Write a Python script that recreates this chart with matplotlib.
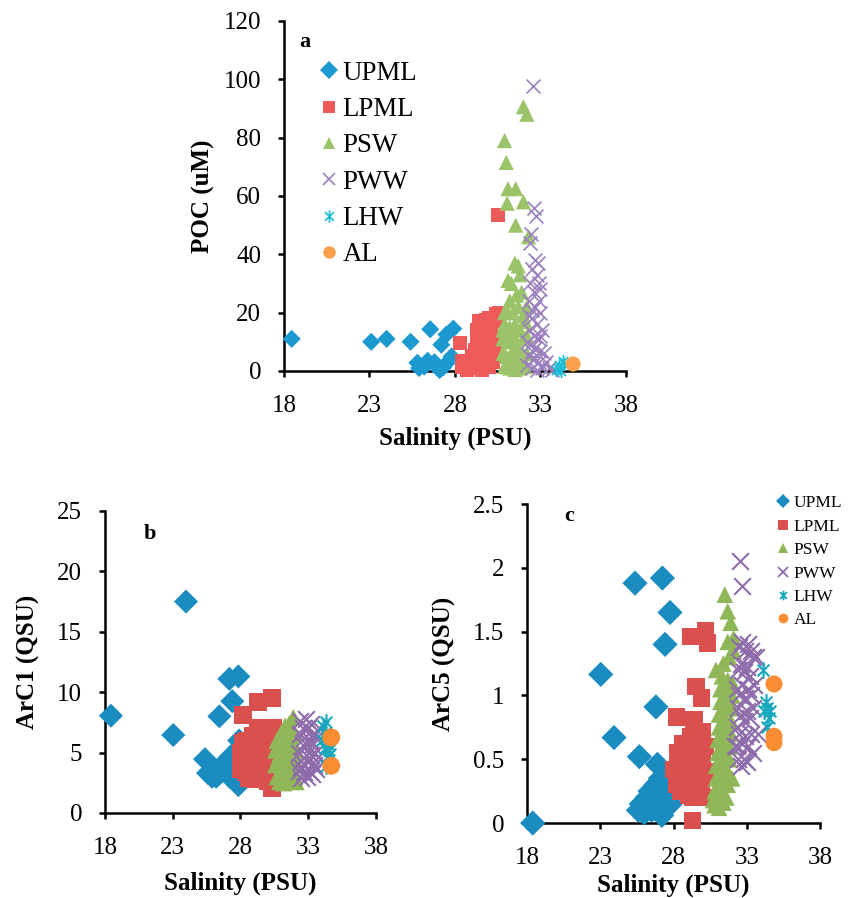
"""
Salinity scatter plots of POC, ArC1 and ArC5 by water mass (panels a, b, c).
"""
import matplotlib
matplotlib.use("Agg")
import matplotlib.pyplot as plt
from matplotlib.path import Path
from matplotlib.lines import Line2D

plt.rcParams["font.family"] = ["Liberation Serif", "DejaVu Serif"]

GROUPS = ["UPML", "LPML", "PSW", "PWW", "LHW", "AL"]

# ---- panel a: POC (uM) vs salinity ----
a_upml_s = [18.45, 23.1, 24.0, 25.4, 26.55, 27.2, 27.5, 27.9, 25.8, 26.4, 26.9, 27.1, 27.5, 27.8,
            26.2, 26.8, 25.9, 27.3]
a_upml_v = [11, 10, 11, 10, 14.3, 9, 12.5, 14.5, 2.8, 3.5, 1.8, 0.3, 2.6, 5,
            1.5, 3, 1.0, 1.2]
a_lpml_s = [28.3, 30.5, 28.4, 28.4, 28.7, 28.7, 28.9, 29.0, 29.0, 29.2, 29.3, 29.3, 29.4, 29.5,
            29.5, 29.6, 29.7, 29.8, 29.8, 29.9, 30.0, 30.0, 30.1, 30.2, 30.2, 30.4, 30.5, 30.6,
            30.3, 30.5, 29.1, 29.6, 30.0, 30.6]
a_lpml_v = [9.5, 53.5, 1.5, 3.5, 0.5, 2.5, 1, 3, 5, 7, 10, 14, 17, 12,
            4, 8, 15, 17.5, 2, 11, 6, 18, 14, 9, 3, 19.5, 17, 20,
            12, 6, 1, 0.5, 1.5, 12]
a_psw_s = [32.0, 32.2, 30.9, 31.0, 31.1, 31.55, 31.05, 32.0, 31.55, 32.3, 31.5, 31.7, 31.1,
           31.3, 31.8, 31.6, 31.2, 31.9, 31.0, 31.4, 31.7, 32.0, 30.9, 31.2, 31.5, 31.8, 32.1,
           30.8, 31.1, 31.4, 31.7, 32.0, 30.8, 31.0, 31.3, 31.6, 31.9, 32.2, 30.9, 31.2, 31.5,
           31.8, 32.1, 31.3, 31.6, 31.9, 32.2, 31.1, 30.9, 32.2, 30.8]
a_psw_v = [90.6, 88, 79, 71.5, 62.5, 62.5, 57.5, 58, 50, 46, 37, 36, 31,
           30, 33, 26, 24, 27, 21, 20, 22, 19, 16, 15, 16, 14, 17,
           11, 10, 11, 9, 11, 6, 5, 6, 4, 5, 6, 1.5, 1, 0.5,
           1, 1.5, 13, 8, 2.5, 12, 3, 20, 22, 14]
a_pww_s = [32.58, 32.6, 32.75, 32.45, 32.4, 32.7, 32.85, 32.5, 32.9, 32.4, 32.6, 33.0, 32.3, 32.7,
           33.0, 32.5, 32.8, 33.1, 32.3, 32.6, 32.9, 32.4, 32.7, 33.0, 33.2, 32.3, 32.6, 32.9,
           33.3, 32.2, 32.5, 32.8, 33.1, 33.5, 33.7, 32.3, 32.9, 32.5, 32.8, 33.0, 32.2, 32.5]
a_pww_v = [97.7, 56, 53, 47, 44, 38, 37, 35, 30, 30, 27, 28, 24, 22,
           20, 18, 16, 14, 14, 12, 11, 9, 8, 7, 6, 5, 4, 3,
           3, 2, 1, 0.5, 1, 1, 0.5, 19, 24, 21, 33, 12, 10, 7]
a_lhw_s = [33.9, 34.1, 34.3, 34.0, 34.2, 34.4]
a_lhw_v = [0.5, 2, 3.5, 1, 0, 2.5]
a_al_s = [34.9]
a_al_v = [2.4]

# ---- panel b: ArC1 (QSU) vs salinity ----
b_upml_s = [18.44, 23.04, 23.98, 25.38, 26.44, 27.18, 27.84, 27.4, 27.84, 27.9,
            25.6, 25.9, 26.1, 26.4, 26.6, 26.8, 27.0, 27.2, 27.3, 27.5, 27.6, 26.2, 27.0]
b_upml_v = [8.05, 6.45, 17.5, 4.45, 8.0, 11.1, 11.3, 9.25, 2.3, 6.0,
            3.3, 3.0, 3.6, 3.2, 3.9, 3.5, 4.2, 3.0, 4.7, 4.1, 5.0, 3.0, 3.4]
b_lpml_s = [28.2, 29.3, 30.3, 30.3, 28.0, 28.0, 28.1, 28.2, 28.4, 28.4, 28.5, 28.7, 28.7, 28.9,
            28.9, 29.0, 29.1, 29.2, 29.3, 29.4, 29.5, 29.6, 29.6, 29.7, 29.8, 29.9, 30.0, 30.0,
            30.1, 30.2, 30.3, 30.4, 30.4, 30.5, 30.5, 29.3, 28.6]
b_lpml_v = [8.1, 9.2, 9.5, 2.1, 3.6, 5.0, 4.3, 5.8, 3.4, 4.8, 6.0, 4.0, 5.4, 3.0,
            6.4, 4.6, 2.8, 5.4, 3.6, 6.2, 4.4, 2.9, 5.2, 6.8, 3.8, 4.8, 6.4, 2.6,
            3.5, 5.5, 4.2, 7.0, 3.0, 5.8, 4.6, 7.0, 2.9]
b_psw_s = [30.6, 30.6, 30.7, 30.7, 30.8, 30.9, 30.9, 31.0, 31.0, 31.1, 31.2, 31.2, 31.3, 31.3,
           31.4, 31.4, 31.5, 31.5, 31.6, 31.6, 31.7, 31.7, 31.8, 31.8, 31.8, 31.9, 31.9, 32.0,
           32.0, 32.1, 32.1, 32.2]
b_psw_v = [4.0, 5.2, 3.0, 6.0, 4.6, 2.6, 5.5, 3.6, 6.6, 4.4, 2.5, 5.2, 7.2, 3.4,
           4.6, 6.2, 2.7, 5.4, 3.8, 7.4, 4.8, 6.4, 2.6, 3.8, 5.6, 7.9, 4.4, 3.0,
           6.6, 5.2, 2.6, 4.0]
b_pww_s = [32.3, 32.3, 32.4, 32.4, 32.5, 32.5, 32.6, 32.6, 32.7, 32.7, 32.8, 32.8, 32.9, 32.9,
           33.0, 33.0, 33.1, 33.1, 33.2, 33.2, 33.3, 33.3, 33.4, 33.4, 33.5, 33.6, 33.6, 33.7,
           33.8, 32.5]
b_pww_v = [3.5, 5.0, 6.5, 7.6, 2.9, 4.3, 5.6, 7.0, 3.4, 6.2, 4.8, 7.8, 3.0, 5.6,
           4.2, 7.0, 3.4, 6.0, 4.8, 7.4, 3.2, 5.6, 6.6, 4.0, 5.0, 6.2, 3.6, 4.6,
           7.0, 3.8]
b_lhw_s = [34.1, 34.2, 34.3, 34.5, 34.4, 34.6, 34.3, 34.0, 34.5, 34.2]
b_lhw_v = [7.2, 6.6, 7.5, 5.2, 4.6, 4.9, 3.9, 6.0, 5.6, 5.4]
b_al_s = [34.7, 34.7]
b_al_v = [6.25, 3.9]

# ---- panel c: ArC5 (QSU) vs salinity ----
c_upml_s = [18.39, 23.03, 23.94, 25.37, 27.24, 27.76, 27.42, 26.8, 25.67, 26.9,
            25.6, 25.8, 26.0, 26.2, 26.4, 26.6, 26.8, 27.0, 27.2, 27.4, 27.6, 27.8, 26.5, 27.1,
            26.3, 27.3]
c_upml_v = [0.0, 1.165, 0.67, 1.88, 1.92, 1.65, 1.40, 0.91, 0.52, 0.46,
            0.10, 0.15, 0.08, 0.20, 0.25, 0.18, 0.30, 0.12, 0.06, 0.22, 0.28, 0.15, 0.10, 0.35,
            0.14, 0.25]
c_lpml_s = [29.3, 29.17, 30.2, 30.3, 29.54, 29.9, 28.2, 29.4,
            28.0, 28.2, 28.3, 28.5, 28.5, 28.6, 28.8, 28.8, 29.0, 29.0, 29.1, 29.2, 29.3, 29.4,
            29.5, 29.6, 29.7, 29.8, 29.9, 30.0, 30.0, 30.1, 30.2, 30.3, 29.6, 29.3, 28.6]
c_lpml_v = [0.02, 1.46, 1.51, 1.41, 1.07, 0.98, 0.83, 0.81,
            0.42, 0.30, 0.55, 0.25, 0.42, 0.62, 0.32, 0.50, 0.22, 0.40, 0.60, 0.68, 0.30, 0.50,
            0.38, 0.64, 0.45, 0.58, 0.30, 0.72, 0.48, 0.20, 0.60, 0.40, 0.26, 0.20, 0.30]
c_psw_s = [31.5, 31.7, 31.9, 30.8, 31.1, 31.4, 30.8, 31.2, 31.6, 30.9, 31.3, 31.7, 30.9, 31.3,
           31.7, 31.0, 31.4, 31.8, 31.0, 31.4, 31.8, 31.1, 31.5, 31.9, 31.1, 31.5, 31.9, 31.2,
           31.6, 32.0, 31.2, 31.6, 32.0, 30.9, 31.3, 31.7, 32.0, 31.4, 31.8, 32.1, 31.7, 32.1,
           30.7, 32.0]
c_psw_v = [1.79, 1.66, 1.57, 0.14, 0.12, 0.16, 0.25, 0.22, 0.20, 0.35, 0.32, 0.30, 0.45, 0.42,
           0.40, 0.55, 0.52, 0.50, 0.65, 0.62, 0.60, 0.75, 0.72, 0.70, 0.85, 0.82, 0.80, 0.95,
           0.92, 0.90, 1.05, 1.02, 1.00, 1.20, 1.15, 1.12, 1.10, 1.25, 1.30, 1.35, 1.42, 1.45,
           0.18, 0.35]
c_pww_s = [32.54, 32.7, 32.3, 32.4, 32.6, 32.8, 33.0, 32.3, 32.5, 32.7, 32.9, 33.1, 33.3, 32.4,
           32.6, 32.8, 33.0, 33.2, 33.4, 32.3, 32.5, 32.7, 32.9, 33.1, 33.3, 33.5, 32.4, 32.6,
           32.8, 33.0, 33.2, 33.4, 32.5, 32.7, 32.9, 33.1, 33.3, 33.6, 33.8, 33.4, 32.2]
c_pww_v = [2.05, 1.86, 0.60, 0.50, 0.45, 0.50, 0.48, 0.75, 0.70, 0.62, 0.68, 0.60, 0.70, 0.90,
           0.85, 0.80, 0.88, 0.82, 0.90, 1.05, 1.00, 1.08, 0.98, 1.05, 1.00, 1.08, 1.20, 1.25,
           1.18, 1.22, 1.15, 1.30, 1.38, 1.42, 1.35, 1.40, 1.35, 1.30, 0.70, 0.55, 0.60]
c_lhw_s = [34.1, 34.3, 34.4, 34.2, 34.5, 34.6, 34.4]
c_lhw_v = [1.2, 0.95, 0.90, 0.88, 0.82, 0.88, 0.75]
c_al_s = [34.86, 34.86, 34.86]
c_al_v = [1.09, 0.68, 0.63]

# asterisk marker: x plus a vertical bar (Excel style)
STAR = Path([(0, -1), (0, 1), (-0.7, -0.7), (0.7, 0.7), (-0.7, 0.7), (0.7, -0.7)],
            [Path.MOVETO, Path.LINETO, Path.MOVETO, Path.LINETO, Path.MOVETO, Path.LINETO])
MARKERS = ["D", "s", "^", "x", STAR, "o"]
COLORS_A = ["#1C9AD0", "#EE5A5A", "#9BC46A", "#9B80BE", "#1ABFD6", "#FBA04C"]
COLORS_BC = ["#1A8CBF", "#D9504E", "#8FB657", "#8E6CAB", "#17A8BE", "#F98D34"]


def is_line_marker(m):
    return isinstance(m, Path) or m == "x"


def scatter_panel(ax, series, colors, sizes, lw):
    for (s, v), m, c, sz in zip(series, MARKERS, colors, sizes):
        if is_line_marker(m):
            ax.scatter(s, v, marker=m, s=sz, c=c, linewidths=lw, clip_on=False, zorder=3)
        else:
            ax.scatter(s, v, marker=m, s=sz, c=c, edgecolors="none", clip_on=False, zorder=3)


def style_axes(ax, ylim, yticks, yticklabels, ylabel, letter, letter_xy, xlabelpad, ylabelpad):
    ax.set_xlim(18, 38)
    ax.set_xticks([18, 23, 28, 33, 38])
    ax.set_ylim(*ylim)
    ax.set_yticks(yticks)
    ax.set_yticklabels(yticklabels)
    for side in ("top", "right"):
        ax.spines[side].set_visible(False)
    for side in ("left", "bottom"):
        ax.spines[side].set_linewidth(1.8)
    ax.tick_params(direction="out", length=4.5, width=1.8, labelsize=18)
    ax.tick_params(axis="x", pad=13)
    ax.tick_params(axis="y", pad=12)
    ax.set_xlabel("Salinity (PSU)", fontsize=18, fontweight="bold", labelpad=xlabelpad)
    ax.set_ylabel(ylabel, fontsize=18, fontweight="bold", labelpad=ylabelpad)
    ax.text(letter_xy[0], letter_xy[1], letter, transform=ax.transAxes,
            fontsize=16, fontweight="bold", ha="center", va="center")


def legend_handles(colors, ms, lw):
    handles = []
    for m, c in zip(MARKERS, colors):
        if is_line_marker(m):
            h = Line2D([], [], ls="none", marker=m, color=c, markersize=ms, markeredgewidth=lw)
        else:
            h = Line2D([], [], ls="none", marker=m, color=c, markersize=ms, markeredgewidth=0)
        handles.append(h)
    return handles


fig = plt.figure(figsize=(8.48, 8.98), dpi=100)

ax_a = fig.add_axes([0.3349, 0.5869, 0.4033, 0.3898])
scatter_panel(ax_a,
              [(a_upml_s, a_upml_v), (a_lpml_s, a_lpml_v), (a_psw_s, a_psw_v),
               (a_pww_s, a_pww_v), (a_lhw_s, a_lhw_v), (a_al_s, a_al_v)],
              COLORS_A, [85, 105, 120, 100, 90, 120], 1.2)
style_axes(ax_a, (0, 120), [0, 20, 40, 60, 80, 100, 120],
           ["0", "20", "40", "60", "80", "100", "120"], "POC (uM)", "a", (0.062, 0.94), 7, 6)
ax_a.legend(legend_handles(COLORS_A, 9, 1.2), GROUPS, loc="upper left",
            bbox_to_anchor=(0.108, 0.886), frameon=False, fontsize=19.4,
            handlelength=0.6, handletextpad=0.2, labelspacing=0.42, borderaxespad=0,
            borderpad=0)

ax_b = fig.add_axes([0.1238, 0.0947, 0.3196, 0.3363])
scatter_panel(ax_b,
              [(b_upml_s, b_upml_v), (b_lpml_s, b_lpml_v), (b_psw_s, b_psw_v),
               (b_pww_s, b_pww_v), (b_lhw_s, b_lhw_v), (b_al_s, b_al_v)],
              COLORS_BC, [150, 165, 155, 145, 145, 165], 1.5)
style_axes(ax_b, (0, 25), [0, 5, 10, 15, 20, 25],
           ["0", "5", "10", "15", "20", "25"], "ArC1 (QSU)", "b", (0.165, 0.925), 9, 12)

ax_c = fig.add_axes([0.6215, 0.0835, 0.3455, 0.3552])
scatter_panel(ax_c,
              [(c_upml_s, c_upml_v), (c_lpml_s, c_lpml_v), (c_psw_s, c_psw_v),
               (c_pww_s, c_pww_v), (c_lhw_s, c_lhw_v), (c_al_s, c_al_v)],
              COLORS_BC, [165, 155, 145, 145, 145, 150], 1.5)
style_axes(ax_c, (0, 2.5), [0, 0.5, 1, 1.5, 2, 2.5],
           ["0", "0.5", "1", "1.5", "2", "2.5"], "ArC5 (QSU)", "c", (0.143, 0.962), 3, 12)
ax_c.legend(legend_handles(COLORS_BC, 7, 1.3), GROUPS, loc="upper left",
            bbox_to_anchor=(0.857, 1.028), frameon=False, fontsize=12.5,
            handlelength=0.6, handletextpad=0.28, labelspacing=0.42, borderaxespad=0,
            borderpad=0)

fig.savefig("out.png", dpi=100)
